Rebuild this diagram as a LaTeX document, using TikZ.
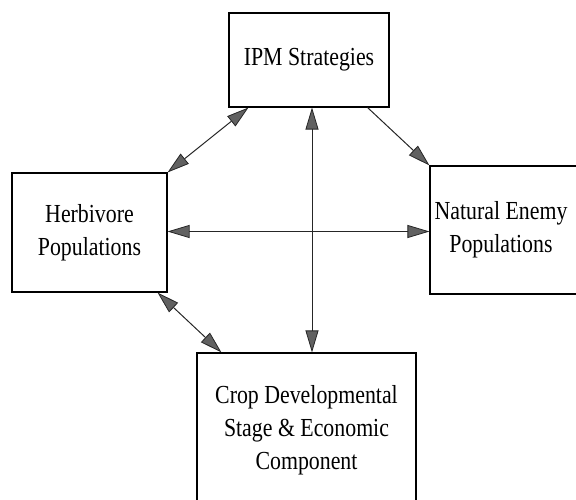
\documentclass[tikz,border=0pt]{standalone}
\usepackage{fontspec}
\setmainfont[FakeStretch=0.84]{Liberation Serif}
\usetikzlibrary{arrows.meta,calc}

\begin{document}
\begin{tikzpicture}[x=1pt,y=-1pt,
  box/.style={draw=black,line width=1.1pt,fill=white,inner sep=0pt,align=center,
    font=\fontsize{26}{33}\selectfont},
  link/.style={draw=black!85,line width=1pt,-{head}},
  both/.style={draw=black!85,line width=1pt,{head}-{head}}
]
\tikzset{head/.tip={Triangle[length=22pt,width=13pt,fill=black!62,line width=0.8pt]}}
\useasboundingbox (0,0) rectangle (576,500);

% the four components
\node[box,minimum width=160pt,minimum height=94pt] (ipm) at (309,60) {IPM Strategies};
\node[box,minimum width=155pt,minimum height=119pt] (herb) at (89.5,232.5) {Herbivore\\Populations};
\node[box,minimum width=150pt,minimum height=128pt] (ne) at (505,230)
  {Natural Enemy\hspace*{8pt}\\Populations\hspace*{8pt}};
\node[box,minimum width=219pt,minimum height=154pt] (crop) at (306.5,430) {Crop Developmental\\Stage \& Economic\\Component};

% guide coordinates for the straight links
\coordinate (vx) at (312,0);
\coordinate (hy) at (0,231.5);

% interactions
\draw[both] (herb.north east) -- ($(ipm.south west)+(20,0)$);
\draw[link] ($(ipm.south east)+(-22,0)$) -- (ne.north west);
\draw[both] (ipm.south -| vx) -- (crop.north -| vx);
\draw[both] (herb.east |- hy) -- (ne.west |- hy);
\draw[both] ($(herb.south east)+(-10,0)$) -- ($(crop.north west)+(25,0)$);
\end{tikzpicture}
\end{document}
